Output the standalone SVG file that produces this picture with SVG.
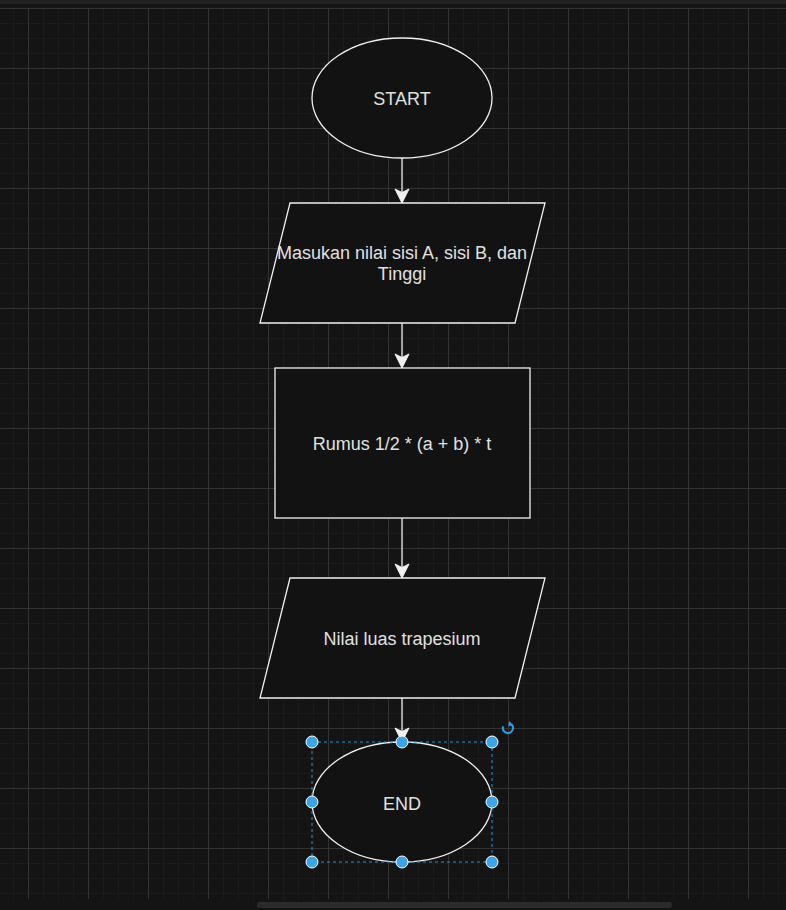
<svg xmlns="http://www.w3.org/2000/svg" width="786" height="910" viewBox="0 0 786 910">
<defs>
<pattern id="minor" x="28" y="8" width="15" height="15" patternUnits="userSpaceOnUse">
<path d="M0 0.5 H15 M0.5 0 V15" stroke="#1b1b1b" stroke-width="1" fill="none"/>
</pattern>
<pattern id="major" x="28" y="8" width="60" height="60" patternUnits="userSpaceOnUse">
<path d="M0 0.5 H60 M0.5 0 V60" stroke="#333333" stroke-width="1" fill="none"/>
</pattern>
<marker id="arrow" viewBox="0 0 16 16" refX="15" refY="8" markerWidth="16" markerHeight="16" markerUnits="userSpaceOnUse" orient="auto">
<path d="M15 8 L1 1 L4.5 8 L1 15 Z" fill="#f0f0f0" stroke="#f0f0f0" stroke-width="1"/>
</marker>
<style>
.shape{fill:#121212;stroke:#f0f0f0;stroke-width:1.3}
.lbl{font-family:"Liberation Sans",Arial,sans-serif;font-size:18px;fill:#e0e0e0;text-anchor:middle;dominant-baseline:central}
.edge{stroke:#f0f0f0;stroke-width:1.3;fill:none;marker-end:url(#arrow)}
.handle{fill:#3ca5e8;stroke:#ffffff;stroke-width:1}
</style>
</defs>
<rect width="786" height="910" fill="#141414"/>
<rect x="0" y="8" width="786" height="891" fill="url(#minor)"/>
<rect x="0" y="8" width="786" height="891" fill="url(#major)"/>
<rect x="0" y="0" width="786" height="4" fill="#202224"/>
<rect x="257" y="902" width="415" height="6" rx="3" fill="#2b2b2b"/>

<g id="connectors">
<path class="edge" d="M402 158 V203"/>
<path class="edge" d="M402 323 V368"/>
<path class="edge" d="M402 518 V578"/>
<path class="edge" d="M402 698 V742"/>
</g>

<g id="start">
<ellipse class="shape" cx="402" cy="98" rx="90" ry="60"/>
<text class="lbl" x="402" y="99">START</text>
</g>
<g id="input">
<polygon class="shape" points="290,203 545,203 515,323 260,323"/>
<text class="lbl" x="402" y="253">Masukan nilai sisi A, sisi B, dan</text>
<text class="lbl" x="402" y="274">Tinggi</text>
</g>
<g id="process">
<rect class="shape" x="275" y="368" width="255" height="150"/>
<text class="lbl" x="402" y="444">Rumus 1/2 * (a + b) * t</text>
</g>
<g id="output">
<polygon class="shape" points="290,578 545,578 515,698 260,698"/>
<text class="lbl" x="402" y="639">Nilai luas trapesium</text>
</g>
<g id="end">
<ellipse class="shape" cx="402" cy="802" rx="90" ry="60"/>
<text class="lbl" x="402" y="804">END</text>
</g>
<g id="selection">
<rect x="312" y="742" width="180" height="120" fill="none" stroke="#2b8fd0" stroke-width="1" stroke-dasharray="3,3"/>
<circle class="handle" cx="312" cy="742" r="6"/>
<circle class="handle" cx="402" cy="742" r="6"/>
<circle class="handle" cx="492" cy="742" r="6"/>
<circle class="handle" cx="312" cy="802" r="6"/>
<circle class="handle" cx="492" cy="802" r="6"/>
<circle class="handle" cx="312" cy="862" r="6"/>
<circle class="handle" cx="402" cy="862" r="6"/>
<circle class="handle" cx="492" cy="862" r="6"/>
<path d="M511.5 724.5 A5 5 0 1 1 503.2 726.3" fill="none" stroke="#2b9be0" stroke-width="2"/>
<path d="M509 721 L513 724.8 L508.3 726.5 Z" fill="#2b9be0"/>
</g>
</svg>
